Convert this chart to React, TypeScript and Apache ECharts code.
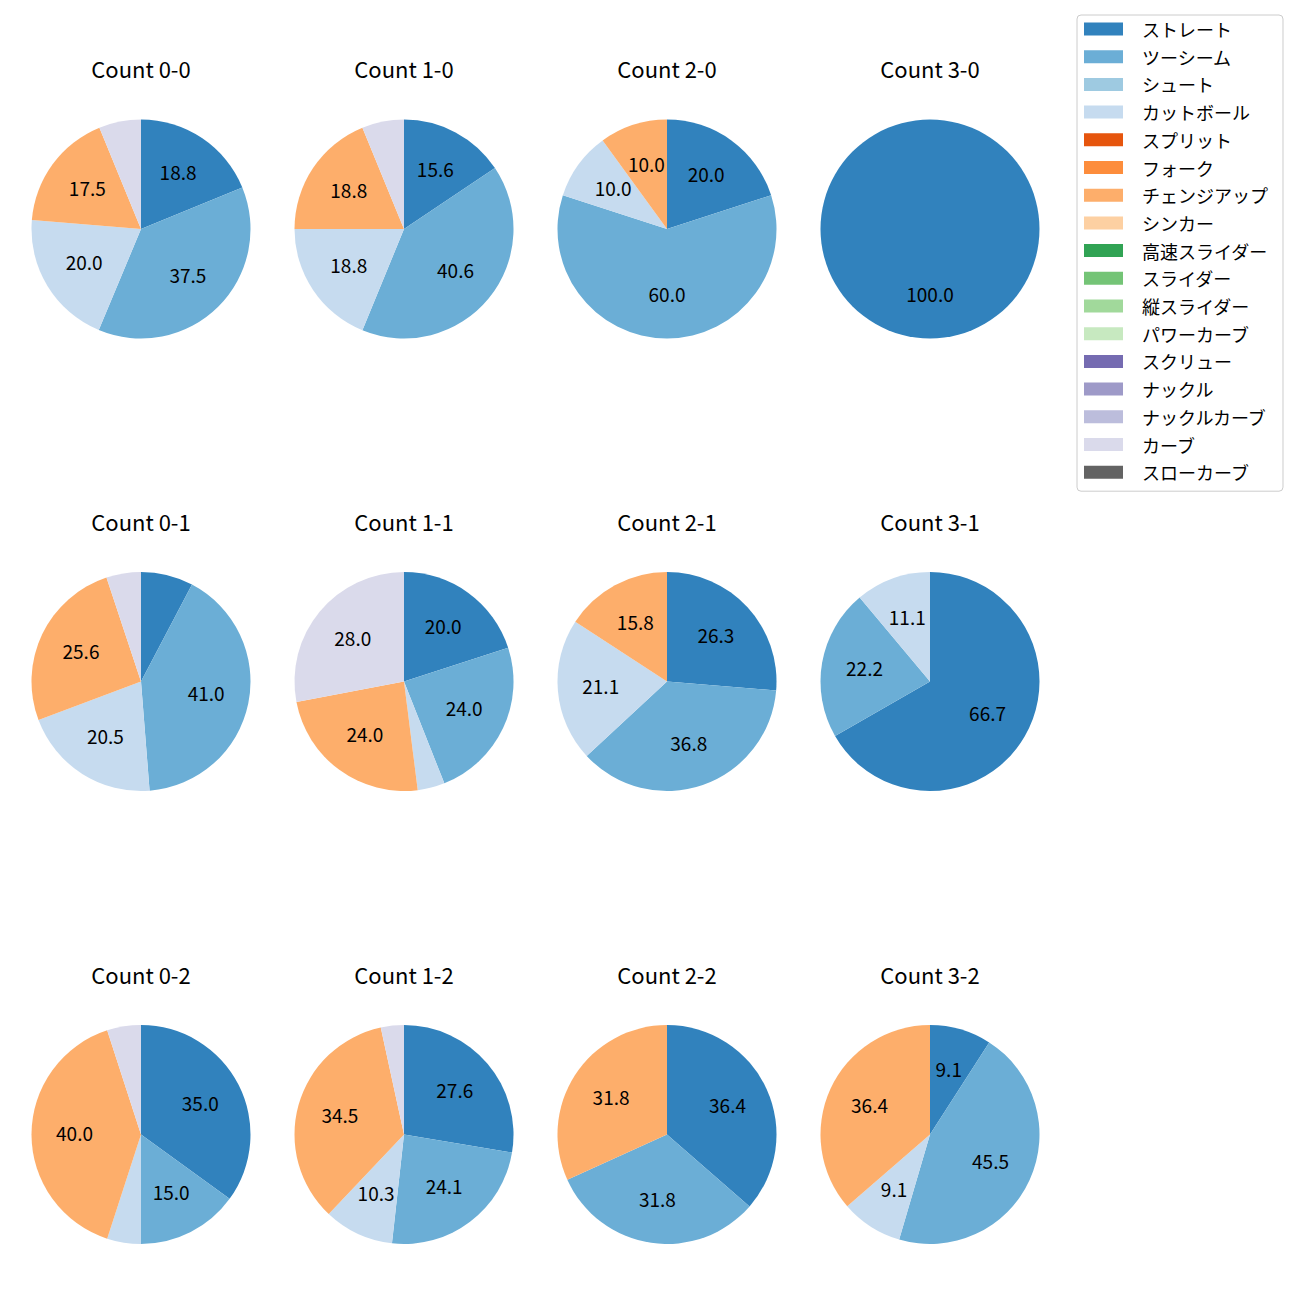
import React, { useEffect, useRef } from 'react';
import * as echarts from 'echarts';

const pitchTypes = [
  'ストレート', 'ツーシーム', 'シュート', 'カットボール', 'スプリット', 'フォーク',
  'チェンジアップ', 'シンカー', '高速スライダー', 'スライダー', '縦スライダー',
  'パワーカーブ', 'スクリュー', 'ナックル', 'ナックルカーブ', 'カーブ', 'スローカーブ',
];
const pitchColors = [
  '#3182bd', '#6baed6', '#9ecae1', '#c6dbef', '#e6550d', '#fd8d3c',
  '#fdae6b', '#fdd0a2', '#31a354', '#74c476', '#a1d99b', '#c7e9c0',
  '#756bb1', '#9e9ac8', '#bcbddc', '#dadaeb', '#636363',
];

const countTitles = [
  'Count 0-0', 'Count 1-0', 'Count 2-0', 'Count 3-0',
  'Count 0-1', 'Count 1-1', 'Count 2-1', 'Count 3-1',
  'Count 0-2', 'Count 1-2', 'Count 2-2', 'Count 3-2',
];

// percentages per count (same order as countTitles)
const straight = [18.8, 15.6, 20.0, 100.0, 7.7, 20.0, 26.3, 66.7, 35.0, 27.6, 36.4, 9.1];
const twoSeam = [37.5, 40.6, 60.0, 0, 41.0, 24.0, 36.8, 22.2, 15.0, 24.1, 31.8, 45.5];
const cutter = [20.0, 18.8, 10.0, 0, 20.5, 4.0, 21.1, 11.1, 5.0, 10.3, 0, 9.1];
const changeup = [17.5, 18.8, 10.0, 0, 25.6, 24.0, 15.8, 0, 40.0, 34.5, 31.8, 36.4];
const curve = [6.2, 6.2, 0, 0, 5.1, 28.0, 0, 0, 5.0, 3.4, 0, 0];

const valuesByType: Record<string, number[]> = {
  'ストレート': straight,
  'ツーシーム': twoSeam,
  'カットボール': cutter,
  'チェンジアップ': changeup,
  'カーブ': curve,
};

const FONT = '"Noto Sans CJK JP", "Noto Sans", sans-serif';
const colX = [141, 404, 667, 930];
const rowY = [229, 681.5, 1134.5];
const R = 109.5;
const LABEL_MIN = 8;

export default function App() {
  const ref = useRef<HTMLDivElement>(null);
  useEffect(() => {
    document.body.style.margin = '0';
    if (!ref.current) return;
    const chart = echarts.init(ref.current, undefined, { renderer: 'svg' });

    const series: any[] = [];
    const overlays: any[] = [];
    const graphics: any[] = [];
    countTitles.forEach((title, i) => {
      const cx = colX[i % 4];
      const cy = rowY[Math.floor(i / 4)];
      const data = pitchTypes.map((name, k) => ({
        name,
        value: valuesByType[name] ? valuesByType[name][i] : 0,
        itemStyle: { color: pitchColors[k] },
      }));
      series.push({
        type: 'pie',
        center: [cx, cy],
        radius: [0, R],
        startAngle: 90,
        clockwise: true,
        avoidLabelOverlap: false,
        silent: true,
        label: { show: false },
        labelLine: { show: false },
        itemStyle: { borderWidth: 0 },
        emphasis: { disabled: true },
        data,
      });
      overlays.push({
        type: 'pie',
        center: [cx, cy - 2],
        radius: [R * 0.16, R],
        startAngle: 90,
        clockwise: true,
        avoidLabelOverlap: false,
        silent: true,
        label: {
          show: true,
          position: 'inside',
          fontSize: 19,
          fontFamily: FONT,
          color: '#000',
          formatter: (p: any) => (p.value >= LABEL_MIN ? Number(p.value).toFixed(1) : ''),
        },
        labelLine: { show: false },
        itemStyle: { color: 'rgba(0,0,0,0)', borderWidth: 0 },
        emphasis: { disabled: true },
        data: data.map((d) => ({ name: d.name, value: d.value })),
      });
      graphics.push({
        type: 'text',
        x: cx,
        y: cy - 161,
        style: {
          text: title,
          fontSize: 22,
          fontFamily: FONT,
          fill: '#000',
          textAlign: 'center',
          textVerticalAlign: 'middle',
        },
      });
    });

    chart.setOption({
      animation: false,
      backgroundColor: '#ffffff',
      legend: {
        orient: 'vertical',
        left: 1077,
        top: 15,
        icon: 'rect',
        itemWidth: 39,
        itemHeight: 13,
        itemGap: 9.7,
        padding: [5, 15, 10, 7],
        borderColor: '#cccccc',
        borderWidth: 1,
        borderRadius: 4,
        backgroundColor: 'rgba(255,255,255,0.8)',
        selectedMode: false,
        itemStyle: { borderWidth: 0 },
        textStyle: { fontSize: 18, fontFamily: FONT, color: '#000', lineHeight: 18, padding: [0, 0, 0, 14] },
        data: pitchTypes,
      },
      graphic: graphics,
      series: [...series, ...overlays],
    });
    return () => chart.dispose();
  }, []);
  return <div ref={ref} style={{ width: 1300, height: 1300 }} />;
}
